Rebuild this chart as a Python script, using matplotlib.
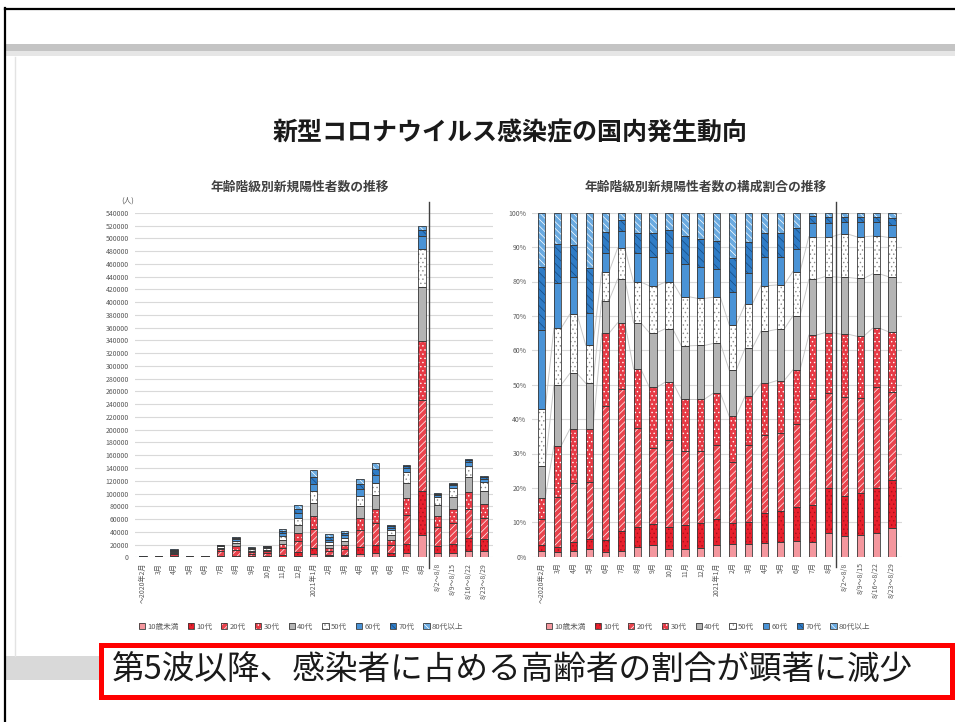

# %%
import numpy as np
import matplotlib.pyplot as plt
from matplotlib.patches import Patch, Rectangle
from matplotlib.legend_handler import HandlerTuple

plt.rcParams['font.family'] = ['Noto Sans CJK JP', 'DejaVu Sans']
plt.rcParams['hatch.linewidth'] = 0.5

# %% data
periods = ['～2020年2月', '3月', '4月', '5月', '6月', '7月', '8月', '9月', '10月',
           '11月', '12月', '2021年1月', '2月', '3月', '4月', '5月', '6月', '7月', '8月',
           '8/2～8/8', '8/9～8/15', '8/16～8/22', '8/23～8/29']

# total new positives per period (人)
totals = [1500, 2500, 12500, 2000, 2000, 19000, 32000, 16000, 18000, 45000, 82000,
          137000, 36000, 42000, 122000, 148000, 51000, 144000, 520000,
          101000, 117000, 154000, 128000]

age_groups = ['10歳未満', '10代', '20代', '30代', '40代', '50代', '60代', '70代', '80代以上']

# share of each age group (%)
share_u10 = [1.7, 1.4, 1.7, 2.1, 1.5, 1.7, 2.9, 3.4, 2.3, 2.2, 2.6, 3.4, 3.7, 3.7, 3.9, 4.2, 4.5, 4.4, 6.8, 6.0, 6.4, 6.8, 8.3]
share_10s = [1.7, 1.5, 2.7, 3.0, 3.4, 5.8, 5.8, 6.1, 6.4, 7.0, 7.3, 7.5, 6.2, 6.5, 8.7, 9.2, 9.9, 10.6, 13.1, 11.6, 12.0, 13.3, 14.0]
share_20s = [7.5, 14.5, 16.9, 16.7, 38.9, 41.2, 28.8, 22.0, 25.2, 21.6, 20.9, 21.6, 17.5, 22.3, 22.8, 22.7, 24.1, 30.8, 27.6, 28.7, 27.6, 29.1, 25.7]
share_30s = [6.1, 14.8, 15.8, 15.3, 21.1, 19.3, 17.1, 17.7, 16.9, 15.0, 15.0, 15.0, 13.5, 14.2, 15.0, 15.1, 15.8, 18.6, 17.6, 18.4, 18.1, 17.2, 17.4]
share_40s = [9.5, 17.7, 16.2, 13.3, 9.5, 12.7, 13.4, 15.9, 15.5, 15.5, 15.6, 14.5, 13.4, 13.9, 15.2, 14.9, 15.7, 16.2, 16.3, 16.5, 16.8, 15.8, 16.0]
share_50s = [16.3, 16.5, 17.2, 11.1, 8.3, 9.0, 11.9, 13.6, 13.6, 14.3, 13.7, 13.4, 13.2, 12.8, 13.2, 12.9, 12.9, 12.4, 11.6, 12.6, 12.1, 11.0, 11.4]
share_60s = [23.2, 13.1, 10.7, 9.3, 5.7, 5.1, 8.3, 8.3, 8.3, 9.5, 9.0, 8.3, 9.5, 9.0, 8.4, 8.0, 6.5, 3.9, 3.9, 3.6, 4.4, 4.0, 3.6]
share_70s = [18.3, 11.4, 9.4, 13.0, 6.1, 3.1, 6.0, 7.0, 6.8, 8.1, 8.2, 8.1, 9.8, 9.2, 7.0, 7.0, 6.2, 2.2, 1.9, 1.4, 1.4, 1.6, 2.0]
share_80p = [15.7, 9.1, 9.4, 16.2, 5.5, 2.1, 5.8, 6.0, 5.0, 6.8, 7.7, 8.2, 13.2, 8.4, 5.8, 6.0, 4.4, 0.9, 1.2, 1.2, 1.2, 1.2, 1.6]

shares = np.array([share_u10, share_10s, share_20s, share_30s, share_40s,
                   share_50s, share_60s, share_70s, share_80p])
counts = shares * np.array(totals) / 100.0

# %% styles
fills = ['#f4979e', '#e8202d', '#e9434d', '#e63a45', '#b4b4b4', '#ffffff', '#4a93d6', '#2f7cc6', '#6aaae0']
hatches = ['', '....', '/////', '....', '', '....', '', '\\\\\\\\', '\\\\\\\\\\']
hatch_cols = ['#f4979e', '#a8101a', '#ffffff', '#ffffff', '#b4b4b4', '#8a8a8a', '#4a93d6', '#174a80', '#ffffff']
outline = '#3a3a3a'
txt_gray = '#595959'

W, H = 955, 722
fig = plt.figure(figsize=(W / 100, H / 100), dpi=100)

# background in pixel coords
bg = fig.add_axes([0, 0, 1, 1], zorder=0)
bg.set_xlim(0, W)
bg.set_ylim(H, 0)
bg.axis('off')
bg.add_patch(Rectangle((6, 44), 949, 7, color='#c4c4c4', lw=0))
bg.add_patch(Rectangle((6, 51), 949, 5, color='#e6e6e6', lw=0))
bg.plot([15, 15], [57, 656], color='#e3e3e3', lw=1)
bg.add_patch(Rectangle((6, 656), 94, 24, color='#d9d9d9', lw=0))
bg.plot([5, 5], [8, 722], color='black', lw=1.6)
bg.plot([5, 955], [9, 9], color='black', lw=1.6)

bg.text(510, 133, '新型コロナウイルス感染症の国内発生動向', fontsize=18, fontweight='bold',
        color='#1a1a1a', ha='center', va='center')
bg.text(300, 187, '年齢階級別新規陽性者数の推移', fontsize=9.2, fontweight='bold',
        color='#404040', ha='center', va='center')
bg.text(706, 187, '年齢階級別新規陽性者数の構成割合の推移', fontsize=9.2, fontweight='bold',
        color='#404040', ha='center', va='center')
bg.text(128, 201, '(人)', fontsize=5.5, color=txt_gray, ha='center', va='center')

bg.add_patch(Rectangle((101, 645), 851, 52, facecolor='white', edgecolor='#ff0000', lw=3.6))
bg.text(112, 671, '第5波以降、感染者に占める高齢者の割合が顕著に減少', fontsize=23.5,
        color='#1a1a1a', ha='left', va='center')


def px_axes(x0, y0, x1, y1):
    return fig.add_axes([x0 / W, 1 - y1 / H, (x1 - x0) / W, (y1 - y0) / H], zorder=2)


def stacked(ax, data, width):
    x = np.arange(len(periods))
    bottom = np.zeros(len(periods))
    for k in range(len(age_groups)):
        ax.bar(x, data[k], width, bottom=bottom, color=fills[k], hatch=hatches[k],
               edgecolor=hatch_cols[k], linewidth=0, zorder=2)
        ax.bar(x, data[k], width, bottom=bottom, fill=False, edgecolor=outline,
               linewidth=0.6, zorder=3)
        bottom += data[k]


def style(ax):
    for s in ax.spines.values():
        s.set_visible(False)
    ax.set_axisbelow(True)
    ax.yaxis.grid(True, color='#d9d9d9', lw=0.8)
    ax.tick_params(axis='both', length=0, labelsize=5, labelcolor=txt_gray, pad=4)
    ax.set_xticks(np.arange(len(periods)))
    ax.set_xticklabels(periods, rotation=90)
    ax.patch.set_alpha(0)


handles = [(Patch(facecolor=fills[k], hatch=hatches[k], edgecolor=hatch_cols[k], linewidth=0),
            Patch(fill=False, edgecolor=outline, linewidth=0.6)) for k in range(len(age_groups))]
leg_kw = dict(handler_map={tuple: HandlerTuple(ndivide=1)}, loc='center', ncol=9,
              frameon=False, fontsize=5.5, labelcolor=txt_gray, handlelength=0.8,
              handleheight=0.8, handletextpad=0.3, columnspacing=1.2)

# %% left chart: counts
ax1 = px_axes(134.5, 212.8, 492.5, 557.3)
stacked(ax1, counts, 0.5)
style(ax1)
ax1.set_xlim(-0.55, 22.55)
ax1.set_ylim(0, 540000)
yt = np.arange(0, 540001, 20000)
ax1.set_yticks(yt)
ax1.set_yticklabels([str(v) for v in yt])
ax1.axvline(18.45, ymin=-0.03, ymax=1.03, color='#404040', lw=1, clip_on=False, zorder=4)
fig.legend(handles, age_groups, bbox_to_anchor=(301 / W, 1 - 627 / H), **leg_kw)

# %% right chart: shares
ax2 = px_axes(532, 212.7, 901.6, 556.7)
bw = 0.45
# faint series lines between neighbouring bars
cum = np.cumsum(shares, axis=0)
for k in [3, 4, 5]:
    for i in range(len(periods) - 1):
        ax2.plot([i + bw / 2, i + 1 - bw / 2], [cum[k][i], cum[k][i + 1]],
                 color='#c8c8c8', lw=0.7, zorder=1)
stacked(ax2, shares, bw)
style(ax2)
ax2.set_xlim(-0.6, 22.6)
ax2.set_ylim(0, 100)
pt = np.arange(0, 101, 10)
ax2.set_yticks(pt)
ax2.set_yticklabels([f'{v}%' for v in pt])
ax2.axvline(18.5, ymin=-0.03, ymax=1.03, color='#404040', lw=1, clip_on=False, zorder=4)
fig.legend(handles, age_groups, bbox_to_anchor=(708 / W, 1 - 627 / H), **leg_kw)

fig.savefig('out.png', dpi=100)
